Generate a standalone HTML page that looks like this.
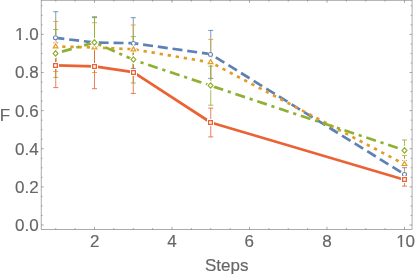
<!DOCTYPE html><html><head><meta charset="utf-8"><style>html,body{margin:0;padding:0;background:#fff}svg{display:block;will-change:transform}text{font-family:"Liberation Sans",sans-serif;fill:#666666;stroke:#666666;stroke-width:0.15px}</style></head><body>
<svg width="415" height="276" viewBox="0 0 415 276">
<rect width="415" height="276" fill="#fff"/>
<g stroke="#5e81b5" fill="none">
<path stroke-width="0.8" d="M55.75 11.70V64.10M94.50 17.70V67.80M133.25 17.70V68.45M210.75 30.40V78.36M404.50 167.70V180.90"/>
<path stroke-width="0.85" d="M53.25 11.70H58.25M53.25 64.10H58.25M92.00 17.70H97.00M92.00 67.80H97.00M130.75 17.70H135.75M130.75 68.45H135.75M208.25 30.40H213.25M208.25 78.36H213.25M402.00 167.70H407.00M402.00 180.90H407.00"/>
</g>
<g stroke="#e19c24" fill="none">
<path stroke-width="0.8" d="M55.75 21.45V71.55M94.50 22.70V72.50M133.25 25.00V73.60M210.75 39.40V85.40M404.50 155.50V173.10"/>
<path stroke-width="0.85" d="M53.25 21.45H58.25M53.25 71.55H58.25M92.00 22.70H97.00M92.00 72.50H97.00M130.75 25.00H135.75M130.75 73.60H135.75M208.25 39.40H213.25M208.25 85.40H213.25M402.00 155.50H407.00M402.00 173.10H407.00"/>
</g>
<g stroke="#8fb032" fill="none">
<path stroke-width="0.8" d="M55.75 29.50V77.40M94.50 16.60V68.20M133.25 36.60V83.00M210.75 66.20V105.20M404.50 140.00V160.50"/>
<path stroke-width="0.85" d="M53.25 29.50H58.25M53.25 77.40H58.25M92.00 16.60H97.00M92.00 68.20H97.00M130.75 36.60H135.75M130.75 83.00H135.75M208.25 66.20H213.25M208.25 105.20H213.25M402.00 140.00H407.00M402.00 160.50H407.00"/>
</g>
<g stroke="#eb6235" fill="none">
<path stroke-width="0.8" d="M55.75 42.85V87.60M94.50 44.10V88.70M133.25 51.00V93.40M210.75 108.10V136.90M404.50 173.40V186.10"/>
<path stroke-width="0.85" d="M53.25 42.85H58.25M53.25 87.60H58.25M92.00 44.10H97.00M92.00 88.70H97.00M130.75 51.00H135.75M130.75 93.40H135.75M208.25 108.10H213.25M208.25 136.90H213.25M402.00 173.40H407.00M402.00 186.10H407.00"/>
</g>
<polyline points="55.75,37.90 94.50,42.50 133.25,43.20 210.75,54.20 404.50,174.30" fill="none" stroke="#5e81b5" stroke-width="2.7" stroke-linejoin="round" stroke-dasharray="10.0 4.85" stroke-dashoffset="1.35"/>
<polyline points="55.75,46.50 94.50,47.45 133.25,49.30 210.75,62.40 404.50,164.30" fill="none" stroke="#e19c24" stroke-width="2.7" stroke-linejoin="round" stroke-dasharray="3.3 4.85" stroke-dashoffset="1.65"/>
<polyline points="55.75,53.40 94.50,42.40 133.25,59.80 210.75,85.70 404.50,150.30" fill="none" stroke="#8fb032" stroke-width="2.7" stroke-linejoin="round" stroke-dasharray="3.2 4.85 10.1 4.85" stroke-dashoffset="1.6"/>
<polyline points="55.75,65.40 94.50,66.40 133.25,72.20 210.75,122.50 404.50,179.70" fill="none" stroke="#eb6235" stroke-width="2.7" stroke-linejoin="round"/>
<g fill="#fff" stroke-linejoin="miter"><g stroke="#fff" stroke-width="1.35"><circle cx="55.50" cy="37.80" r="2.0"/></g><g stroke="#5e81b5" stroke-width="1.05"><circle cx="55.50" cy="37.80" r="2.0"/></g></g>
<g fill="#fff" stroke-linejoin="miter"><g stroke="#fff" stroke-width="1.35"><circle cx="94.50" cy="42.50" r="2.0"/></g><g stroke="#5e81b5" stroke-width="1.05"><circle cx="94.50" cy="42.50" r="2.0"/></g></g>
<g fill="#fff" stroke-linejoin="miter"><g stroke="#fff" stroke-width="1.35"><circle cx="133.50" cy="43.50" r="2.0"/></g><g stroke="#5e81b5" stroke-width="1.05"><circle cx="133.50" cy="43.50" r="2.0"/></g></g>
<g fill="#fff" stroke-linejoin="miter"><g stroke="#fff" stroke-width="1.35"><circle cx="210.50" cy="54.50" r="2.0"/></g><g stroke="#5e81b5" stroke-width="1.05"><circle cx="210.50" cy="54.50" r="2.0"/></g></g>
<g fill="#fff" stroke-linejoin="miter"><g stroke="#fff" stroke-width="1.35"><circle cx="404.50" cy="174.50" r="2.0"/></g><g stroke="#5e81b5" stroke-width="1.05"><circle cx="404.50" cy="174.50" r="2.0"/></g></g>
<g fill="#fff" stroke-linejoin="miter"><g stroke="#fff" stroke-width="3.0"><path d="M55.60 43.89L57.95 47.90L53.25 47.90Z"/></g><g stroke="#e19c24" stroke-width="1.2"><path d="M55.60 43.89L57.95 47.90L53.25 47.90Z"/></g></g>
<g fill="#fff" stroke-linejoin="miter"><g stroke="#fff" stroke-width="3.0"><path d="M94.50 44.79L96.85 48.80L92.15 48.80Z"/></g><g stroke="#e19c24" stroke-width="1.2"><path d="M94.50 44.79L96.85 48.80L92.15 48.80Z"/></g></g>
<g fill="#fff" stroke-linejoin="miter"><g stroke="#fff" stroke-width="3.0"><path d="M133.40 46.89L135.75 50.90L131.05 50.90Z"/></g><g stroke="#e19c24" stroke-width="1.2"><path d="M133.40 46.89L135.75 50.90L131.05 50.90Z"/></g></g>
<g fill="#fff" stroke-linejoin="miter"><g stroke="#fff" stroke-width="3.0"><path d="M210.60 59.59L212.95 63.60L208.25 63.60Z"/></g><g stroke="#e19c24" stroke-width="1.2"><path d="M210.60 59.59L212.95 63.60L208.25 63.60Z"/></g></g>
<g fill="#fff" stroke-linejoin="miter"><g stroke="#fff" stroke-width="3.0"><path d="M404.50 161.49L406.85 165.50L402.15 165.50Z"/></g><g stroke="#e19c24" stroke-width="1.2"><path d="M404.50 161.49L406.85 165.50L402.15 165.50Z"/></g></g>
<g fill="#fff" stroke-linejoin="miter"><g stroke="#fff" stroke-width="3.2"><path d="M55.60 50.75L58.05 53.40L55.60 56.05L53.15 53.40Z"/></g><g stroke="#8fb032" stroke-width="1.2"><path d="M55.60 50.75L58.05 53.40L55.60 56.05L53.15 53.40Z"/></g></g>
<g fill="#fff" stroke-linejoin="miter"><g stroke="#fff" stroke-width="3.2"><path d="M94.40 39.75L96.85 42.40L94.40 45.05L91.95 42.40Z"/></g><g stroke="#8fb032" stroke-width="1.2"><path d="M94.40 39.75L96.85 42.40L94.40 45.05L91.95 42.40Z"/></g></g>
<g fill="#fff" stroke-linejoin="miter"><g stroke="#fff" stroke-width="3.2"><path d="M133.40 56.85L135.85 59.50L133.40 62.15L130.95 59.50Z"/></g><g stroke="#8fb032" stroke-width="1.2"><path d="M133.40 56.85L135.85 59.50L133.40 62.15L130.95 59.50Z"/></g></g>
<g fill="#fff" stroke-linejoin="miter"><g stroke="#fff" stroke-width="3.2"><path d="M210.60 82.90L213.05 85.55L210.60 88.20L208.15 85.55Z"/></g><g stroke="#8fb032" stroke-width="1.2"><path d="M210.60 82.90L213.05 85.55L210.60 88.20L208.15 85.55Z"/></g></g>
<g fill="#fff" stroke-linejoin="miter"><g stroke="#fff" stroke-width="3.2"><path d="M404.50 147.75L406.95 150.40L404.50 153.05L402.05 150.40Z"/></g><g stroke="#8fb032" stroke-width="1.2"><path d="M404.50 147.75L406.95 150.40L404.50 153.05L402.05 150.40Z"/></g></g>
<g fill="#fff" stroke-linejoin="miter"><g stroke="#fff" stroke-width="3.25"><rect x="53.62" y="63.62" width="3.75" height="3.75"/></g><g stroke="#eb6235" stroke-width="1.25"><rect x="53.62" y="63.62" width="3.75" height="3.75"/></g></g>
<g fill="#fff" stroke-linejoin="miter"><g stroke="#fff" stroke-width="3.25"><rect x="92.62" y="64.62" width="3.75" height="3.75"/></g><g stroke="#eb6235" stroke-width="1.25"><rect x="92.62" y="64.62" width="3.75" height="3.75"/></g></g>
<g fill="#fff" stroke-linejoin="miter"><g stroke="#fff" stroke-width="3.25"><rect x="131.62" y="70.62" width="3.75" height="3.75"/></g><g stroke="#eb6235" stroke-width="1.25"><rect x="131.62" y="70.62" width="3.75" height="3.75"/></g></g>
<g fill="#fff" stroke-linejoin="miter"><g stroke="#fff" stroke-width="3.25"><rect x="208.62" y="120.62" width="3.75" height="3.75"/></g><g stroke="#eb6235" stroke-width="1.25"><rect x="208.62" y="120.62" width="3.75" height="3.75"/></g></g>
<g fill="#fff" stroke-linejoin="miter"><g stroke="#fff" stroke-width="3.25"><rect x="402.62" y="177.62" width="3.75" height="3.75"/></g><g stroke="#eb6235" stroke-width="1.25"><rect x="402.62" y="177.62" width="3.75" height="3.75"/></g></g>
<g stroke="#666666" stroke-width="0.55" fill="none">
<rect x="41.15" y="0.2" width="370.90000000000003" height="229.22"/>
<path d="M41.15 225.00h2.60M412.05 225.00h-2.60M41.15 215.47h1.40M412.05 215.47h-1.40M41.15 205.94h1.40M412.05 205.94h-1.40M41.15 196.41h1.40M412.05 196.41h-1.40M41.15 186.88h2.60M412.05 186.88h-2.60M41.15 177.35h1.40M412.05 177.35h-1.40M41.15 167.82h1.40M412.05 167.82h-1.40M41.15 158.29h1.40M412.05 158.29h-1.40M41.15 148.76h2.60M412.05 148.76h-2.60M41.15 139.23h1.40M412.05 139.23h-1.40M41.15 129.70h1.40M412.05 129.70h-1.40M41.15 120.17h1.40M412.05 120.17h-1.40M41.15 110.64h2.60M412.05 110.64h-2.60M41.15 101.11h1.40M412.05 101.11h-1.40M41.15 91.58h1.40M412.05 91.58h-1.40M41.15 82.05h1.40M412.05 82.05h-1.40M41.15 72.52h2.60M412.05 72.52h-2.60M41.15 62.99h1.40M412.05 62.99h-1.40M41.15 53.46h1.40M412.05 53.46h-1.40M41.15 43.93h1.40M412.05 43.93h-1.40M41.15 34.40h2.60M412.05 34.40h-2.60M41.15 24.87h1.40M412.05 24.87h-1.40M41.15 15.34h1.40M412.05 15.34h-1.40M41.15 5.81h1.40M412.05 5.81h-1.40M55.75 229.42v-1.40M55.75 0.20v1.40M75.12 229.42v-1.40M75.12 0.20v1.40M94.50 229.42v-2.60M94.50 0.20v2.60M113.88 229.42v-1.40M113.88 0.20v1.40M133.25 229.42v-1.40M133.25 0.20v1.40M152.62 229.42v-1.40M152.62 0.20v1.40M172.00 229.42v-2.60M172.00 0.20v2.60M191.38 229.42v-1.40M191.38 0.20v1.40M210.75 229.42v-1.40M210.75 0.20v1.40M230.12 229.42v-1.40M230.12 0.20v1.40M249.50 229.42v-2.60M249.50 0.20v2.60M268.88 229.42v-1.40M268.88 0.20v1.40M288.25 229.42v-1.40M288.25 0.20v1.40M307.62 229.42v-1.40M307.62 0.20v1.40M327.00 229.42v-2.60M327.00 0.20v2.60M346.38 229.42v-1.40M346.38 0.20v1.40M365.75 229.42v-1.40M365.75 0.20v1.40M385.12 229.42v-1.40M385.12 0.20v1.40M404.50 229.42v-2.60M404.50 0.20v2.60"/>
</g>
<text x="38.6" y="231" font-size="17" text-anchor="end">0.0</text>
<text x="38.6" y="193" font-size="17" text-anchor="end">0.2</text>
<text x="38.6" y="155" font-size="17" text-anchor="end">0.4</text>
<text x="38.6" y="117" font-size="17" text-anchor="end">0.6</text>
<text x="38.6" y="78" font-size="17" text-anchor="end">0.8</text>
<text x="38.6" y="40" font-size="17" text-anchor="end">1.0</text>
<text x="94.80" y="247" font-size="17" text-anchor="middle">2</text>
<text x="171.90" y="247" font-size="17" text-anchor="middle">4</text>
<text x="249.30" y="247" font-size="17" text-anchor="middle">6</text>
<text x="327.00" y="247" font-size="17" text-anchor="middle">8</text>
<text x="405.60" y="247" font-size="17" text-anchor="middle">10</text>
<text x="-0.3" y="120.5" font-size="17">F</text>
<text x="226.7" y="271" font-size="17" text-anchor="middle">Steps</text>
<g fill="#fff"><rect x="15.4" y="37.9" width="3.6" height="2.4"/><rect x="21" y="37.9" width="3.6" height="2.4"/><rect x="396.2" y="244.9" width="4.2" height="2.6"/><rect x="402.2" y="244.9" width="3.4" height="2.6"/></g>
</svg></body></html>
